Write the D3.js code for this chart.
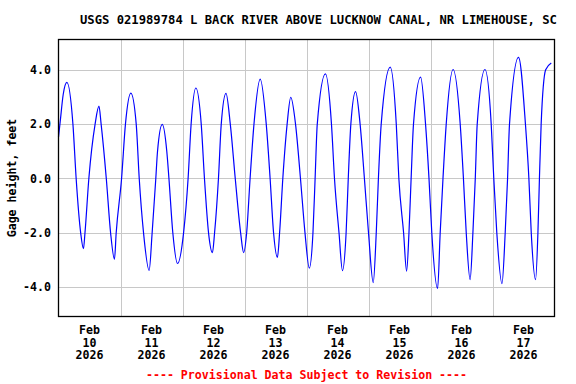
<!DOCTYPE html>
<html>
<head>
<meta charset="utf-8">
<script src="https://cdn.jsdelivr.net/npm/d3@7"></script>
<style>
  body { margin: 0; background: #fff; }
  text { font-family: "DejaVu Sans Mono", "Liberation Mono", monospace; font-weight: bold; font-size: 11.6px; }
</style>
</head>
<body>
<div id="gage_chart"></div>
<script>
  // readings taken from the plot (extremes and grid crossings), feet
  var obsTimes = [
      "2026-02-10 00:00", "2026-02-10 00:40", "2026-02-10 01:50", "2026-02-10 03:15", "2026-02-10 05:35",
      "2026-02-10 06:50", "2026-02-10 08:35", "2026-02-10 09:40", "2026-02-10 10:15", "2026-02-10 11:45",
      "2026-02-10 14:10", "2026-02-10 15:40", "2026-02-10 16:30", "2026-02-10 18:30", "2026-02-10 20:10",
      "2026-02-10 21:40", "2026-02-10 22:20",
      "2026-02-11 00:25", "2026-02-11 01:55", "2026-02-11 04:00", "2026-02-11 06:05", "2026-02-11 07:15",
      "2026-02-11 08:55", "2026-02-11 11:05", "2026-02-11 12:15", "2026-02-11 13:40", "2026-02-11 14:20",
      "2026-02-11 16:10", "2026-02-11 17:55", "2026-02-11 18:45", "2026-02-11 20:15", "2026-02-11 22:05",
      "2026-02-12 00:25", "2026-02-12 02:10", "2026-02-12 03:20", "2026-02-12 05:10", "2026-02-12 07:15",
      "2026-02-12 08:30", "2026-02-12 10:05", "2026-02-12 11:35", "2026-02-12 12:25", "2026-02-12 13:55",
      "2026-02-12 15:00", "2026-02-12 16:50", "2026-02-12 18:30", "2026-02-12 20:25", "2026-02-12 22:30",
      "2026-02-12 23:40",
      "2026-02-13 00:50", "2026-02-13 02:10", "2026-02-13 03:40", "2026-02-13 06:05", "2026-02-13 08:25",
      "2026-02-13 09:55", "2026-02-13 11:15", "2026-02-13 12:45", "2026-02-13 13:35", "2026-02-13 14:50",
      "2026-02-13 16:30", "2026-02-13 17:55", "2026-02-13 19:45", "2026-02-13 21:40", "2026-02-13 23:25",
      "2026-02-14 01:05", "2026-02-14 02:30", "2026-02-14 03:20", "2026-02-14 04:10", "2026-02-14 07:20",
      "2026-02-14 09:40", "2026-02-14 10:50", "2026-02-14 12:35", "2026-02-14 13:55", "2026-02-14 15:20",
      "2026-02-14 16:10", "2026-02-14 17:10", "2026-02-14 19:00", "2026-02-14 20:45", "2026-02-14 22:25",
      "2026-02-15 00:00", "2026-02-15 01:50", "2026-02-15 03:00", "2026-02-15 03:50", "2026-02-15 04:55",
      "2026-02-15 08:25", "2026-02-15 10:45", "2026-02-15 11:45", "2026-02-15 13:35", "2026-02-15 14:45",
      "2026-02-15 15:40", "2026-02-15 16:30", "2026-02-15 17:25", "2026-02-15 20:10", "2026-02-15 22:05",
      "2026-02-15 23:25",
      "2026-02-16 00:30", "2026-02-16 02:45", "2026-02-16 03:45", "2026-02-16 04:50", "2026-02-16 06:05",
      "2026-02-16 08:45", "2026-02-16 11:30", "2026-02-16 12:45", "2026-02-16 13:50", "2026-02-16 15:20",
      "2026-02-16 16:25", "2026-02-16 17:20", "2026-02-16 18:05", "2026-02-16 21:05", "2026-02-16 23:30",
      "2026-02-17 00:30", "2026-02-17 01:40", "2026-02-17 03:40", "2026-02-17 04:55", "2026-02-17 05:50",
      "2026-02-17 06:35", "2026-02-17 10:05", "2026-02-17 12:45", "2026-02-17 14:05", "2026-02-17 15:00",
      "2026-02-17 16:40", "2026-02-17 17:35", "2026-02-17 18:10", "2026-02-17 18:50", "2026-02-17 20:35",
      "2026-02-17 22:45"
  ];

  var gageHeight = [
      1.52, 2.1, 3.1, 3.54, 2.0,
      0.0, -2.0, -2.58, -2.0, 0.0,
      2.0, 2.66, 2.0, 0.0, -2.0,
      -2.97, -2.0,
      0.0, 2.0, 3.14, 2.0, 0.0,
      -2.0, -3.38, -2.0, 0.0, 1.0,
      1.99, 1.0, 0.0, -2.0, -3.13,
      -2.0, 0.0, 2.0, 3.33, 2.0,
      0.0, -2.0, -2.73, -2.0, 0.0,
      2.0, 3.13, 2.0, 0.0, -2.0,
      -2.73,
      -2.0, 0.0, 2.0, 3.66, 2.0,
      0.0, -2.0, -2.90, -2.0, 0.0,
      2.0, 2.99, 2.0, 0.0, -2.0,
      -3.30, -2.0, 0.0, 2.0, 3.85,
      2.0, 0.0, -2.0, -3.39, -2.0,
      0.0, 2.0, 3.20, 2.0, 0.0,
      -2.0, -3.83, -2.0, 0.0, 2.0,
      4.10, 2.0, 0.0, -2.0, -3.41,
      -2.0, 0.0, 2.0, 3.73, 2.0,
      0.0,
      -2.0, -4.05, -2.0, 0.0, 2.0,
      4.01, 2.0, 0.0, -2.0, -3.72,
      -2.0, 0.0, 2.0, 4.01, 2.0,
      0.0, -2.0, -3.87, -2.0, 0.0,
      2.0, 4.46, 2.0, 0.0, -2.0,
      -3.72, -2.0, 0.0, 2.0, 4.0,
      4.25
  ];

  var yTicks = [-4, -2, 0, 2, 4];
  var dayTicks = ["2026-02-10", "2026-02-11", "2026-02-12", "2026-02-13",
      "2026-02-14", "2026-02-15", "2026-02-16", "2026-02-17"];
  var chartTitle = "USGS 021989784 L BACK RIVER ABOVE LUCKNOW CANAL, NR LIMEHOUSE, SC";
  var yTitle = "Gage height, feet";
  var footNote = "---- Provisional Data Subject to Revision ----";

  var parseTime = d3.timeParse("%Y-%m-%d %H:%M"),
      parseDay = d3.timeParse("%Y-%m-%d");

  var data = obsTimes.map(function (t, i) {
      return { date: parseTime(t), value: gageHeight[i] };
  });

  // plot box
  var box = { left: 58.5, right: 554.5, top: 39.5, bottom: 316.5 };

  var svg = d3.select("#gage_chart")
      .append("svg")
      .attr("width", 576)
      .attr("height", 384);

  var x = d3.scaleTime()
      .domain([parseDay("2026-02-10"), parseDay("2026-02-18")])
      .range([box.left, box.right]);

  var y = d3.scaleLinear()
      .domain([-5.08, 5.115])
      .range([box.bottom, box.top]);

  // grid
  var days = dayTicks.map(parseDay);
  svg.append("g")
      .selectAll("line")
      .data(days.slice(1))
      .enter()
      .append("line")
      .attr("x1", function (d) { return Math.round(x(d)) + 0.5; })
      .attr("x2", function (d) { return Math.round(x(d)) + 0.5; })
      .attr("y1", box.top)
      .attr("y2", box.bottom)
      .attr("stroke", "#c8c8c8");

  svg.append("g")
      .selectAll("line")
      .data(yTicks)
      .enter()
      .append("line")
      .attr("x1", box.left)
      .attr("x2", box.right)
      .attr("y1", function (d) { return Math.round(y(d)) + 0.5; })
      .attr("y2", function (d) { return Math.round(y(d)) + 0.5; })
      .attr("stroke", "#c8c8c8");

  // the gage line
  var line = d3.line()
      .x(function (d) { return x(d.date); })
      .y(function (d) { return y(d.value); })
      .curve(d3.curveMonotoneX);

  svg.append("path")
      .datum(data)
      .attr("d", line)
      .attr("fill", "none")
      .attr("stroke", "#0000ff")
      .attr("stroke-width", 1.2);

  // frame
  svg.append("rect")
      .attr("x", box.left)
      .attr("y", box.top)
      .attr("width", box.right - box.left)
      .attr("height", box.bottom - box.top)
      .attr("fill", "none")
      .attr("stroke", "#000")
      .attr("stroke-width", 1.3);

  // y tick labels
  svg.append("g")
      .selectAll("text")
      .data(yTicks)
      .enter()
      .append("text")
      .attr("x", 51)
      .attr("y", function (d) { return y(d); })
      .attr("dy", "0.35em")
      .attr("text-anchor", "end")
      .text(function (d) { return d3.format(".1f")(d).replace("−", "-"); });

  // x labels, centred on noon of each day
  var fmt = [d3.timeFormat("%b"), d3.timeFormat("%-d"), d3.timeFormat("%Y")];
  var xl = svg.append("g")
      .selectAll("text")
      .data(days)
      .enter()
      .append("text")
      .attr("text-anchor", "middle");
  fmt.forEach(function (f, i) {
      xl.append("tspan")
          .attr("x", function (d) { return x(d3.timeHour.offset(d, 12)); })
          .attr("y", 334 + i * 12.7)
          .text(function (d) { return f(d); });
  });

  svg.append("text")
      .attr("transform", "translate(16," + ((box.top + box.bottom) / 2) + ") rotate(-90)")
      .attr("text-anchor", "middle")
      .text(yTitle);

  svg.append("text")
      .attr("x", 80)
      .attr("y", 23.5)
      .style("font-size", "12.2px")
      .text(chartTitle);

  svg.append("text")
      .attr("x", (box.left + box.right) / 2)
      .attr("y", 379)
      .attr("text-anchor", "middle")
      .attr("fill", "#ff0000")
      .text(footNote);
</script>
</body>
</html>
